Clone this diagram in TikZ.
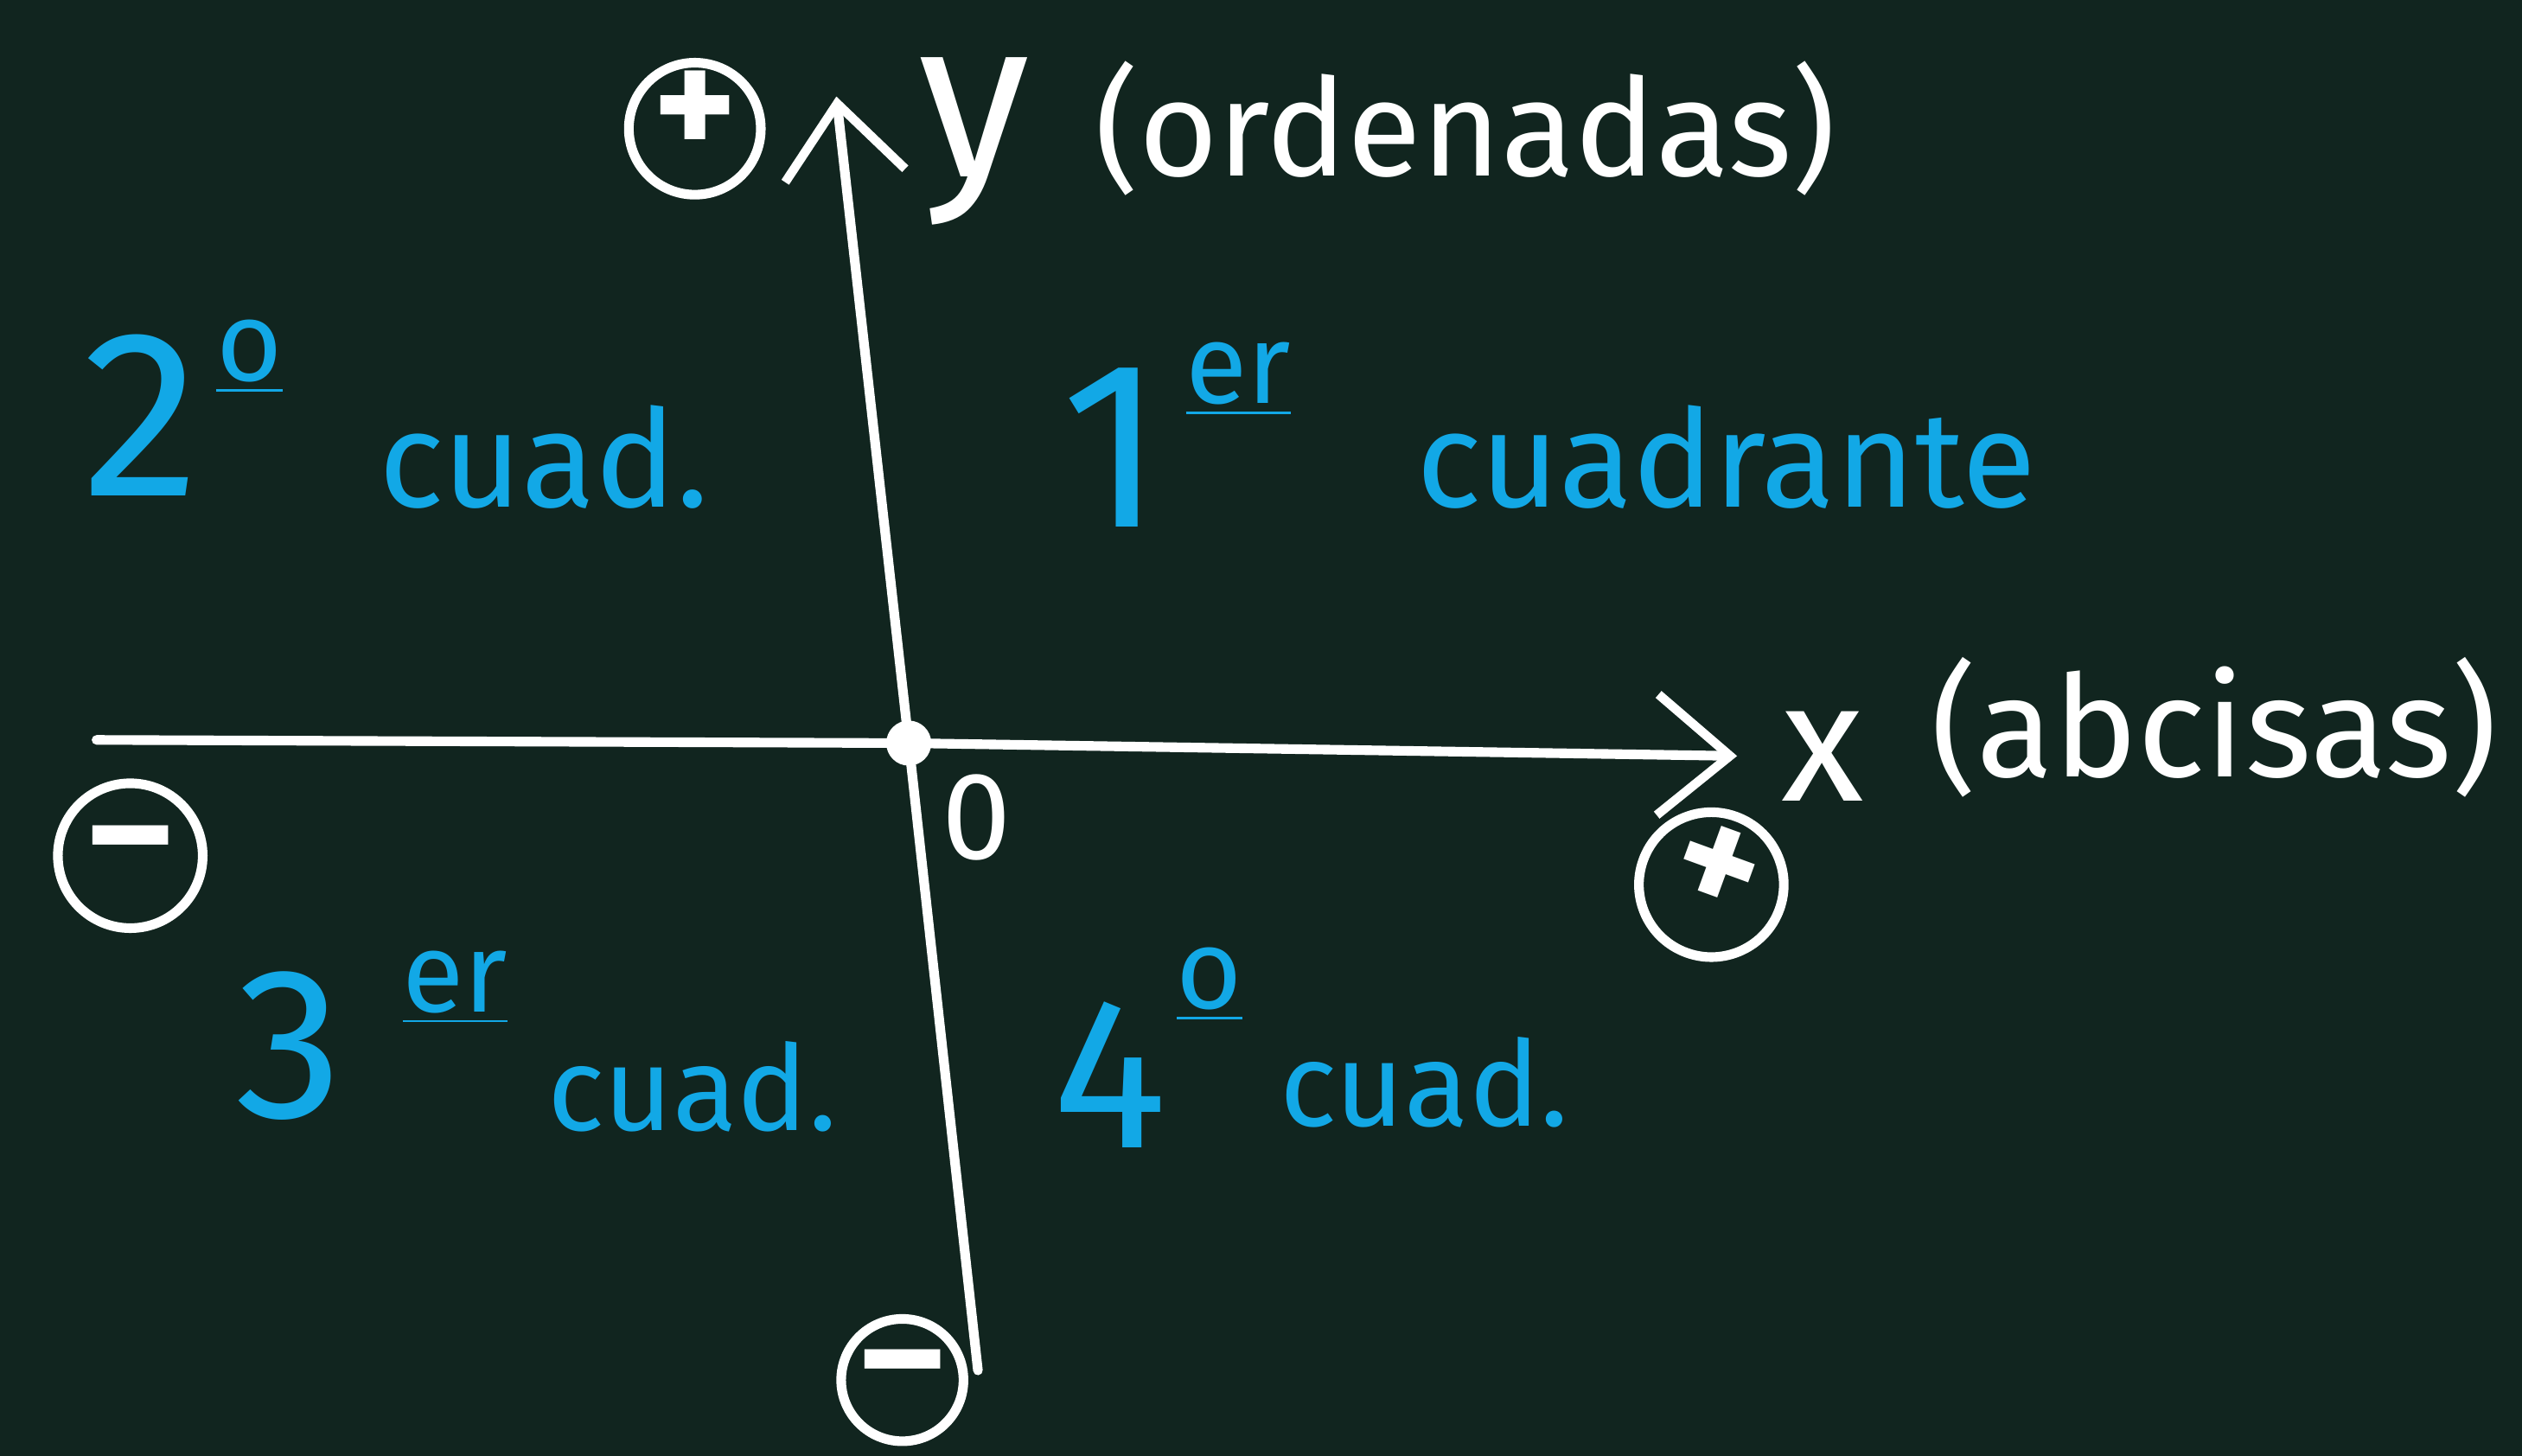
\documentclass[tikz,border=0pt]{standalone}
\usepackage{fontspec}
\setmainfont{Fira Sans}
\usetikzlibrary{arrows.meta,positioning,calc}
\definecolor{Board}{HTML}{11251F}
\definecolor{Chalk}{HTML}{FFFFFF}
\definecolor{Quad}{HTML}{12A8E6}

\tikzset{
  axis/.style={Chalk,line width=1.7pt,line cap=round},
  tip/.style={-{Straight Barb[length=0.45cm,width=0.75cm,line width=1.6pt]}},
  sign/.style={circle,draw=Chalk,line width=1.7pt,minimum size=0.82cm,inner sep=0pt,text=Chalk,
    text height=1.02em,text depth=0pt,font=\fontsize{28}{28}\selectfont\bfseries},
  chalk/.style={text=Chalk,inner sep=0pt},
  quad/.style={text=Quad,inner sep=0pt},
  num/.style={quad,font=\fontsize{42}{42}\selectfont},
  ord/.style={quad,font=\fontsize{20}{20}\selectfont},
  word/.style={quad,anchor=base west,font=\fontsize{24}{24}\selectfont},
}

\begin{document}
\begin{tikzpicture}[x=0.01cm,y=-0.01cm]
\fill[Board] (0,0) rectangle (1568,905);
\useasboundingbox (0,0) rectangle (1568,905);
% axes
\coordinate (xl) at (60,460);
\coordinate (xr) at (1080,470);
\coordinate (yb) at (608,852);
\coordinate (yt) at (520,60);
\node[circle,fill=Chalk,minimum size=0.28cm,inner sep=0pt] (O) at (565,462) {};
\draw[axis] (xl) -- (O.center);
\draw[axis,tip] (O.center) -- (xr);
\draw[axis] (yb) -- (O.center);
\draw[axis,tip] (O.center) -- (yt);
\node[chalk,font=\fontsize{22}{22}\selectfont] (zero) at (607,508) {0};
% axis names
\node[chalk,font=\fontsize{40}{40}\selectfont] (ylab) at (606,88) {y};
\node[chalk,font=\fontsize{24}{24}\selectfont,anchor=west] (yname) at (680,80) {(ordenadas)};
\node[chalk,font=\fontsize{30}{30}\selectfont] (xlab) at (1133,470) {x};
\node[chalk,font=\fontsize{25}{25}\selectfont,anchor=west] (xname) at (1200,452) {(abcisas)};
% signs
\node[sign] (yplus) at (432,80) {+};
\node[sign,minimum size=0.9cm] (xminus) at (81,532) {–};
\node[sign,minimum size=0.9cm,rotate=-20] (xplus) at (1064,550) {+};
\node[sign,minimum size=0.76cm] (yminus) at (561,858) {–};
% quadrants
\node[num] (n1) at (692,278) {1};
\node[ord] (o1) at (770,236) {\underline{er}};
\node[word] (w1) at (880,315) {cuadrante};
\node[num] (n2) at (88,258) {2};
\node[ord] (o2) at (155,222) {\underline{o}};
\node[word] (w2) at (235,315) {cuad.};
\node[num,font=\fontsize{38}{38}\selectfont] (n3) at (180,650) {3};
\node[ord] (o3) at (283,614) {\underline{er}};
\node[word,font=\fontsize{21}{21}\selectfont] (w3) at (340,703) {cuad.};
\node[num,font=\fontsize{38}{38}\selectfont] (n4) at (690,668) {4};
\node[ord] (o4) at (752,612) {\underline{o}};
\node[word,font=\fontsize{21}{21}\selectfont] (w4) at (795,700) {cuad.};
\end{tikzpicture}
\end{document}
